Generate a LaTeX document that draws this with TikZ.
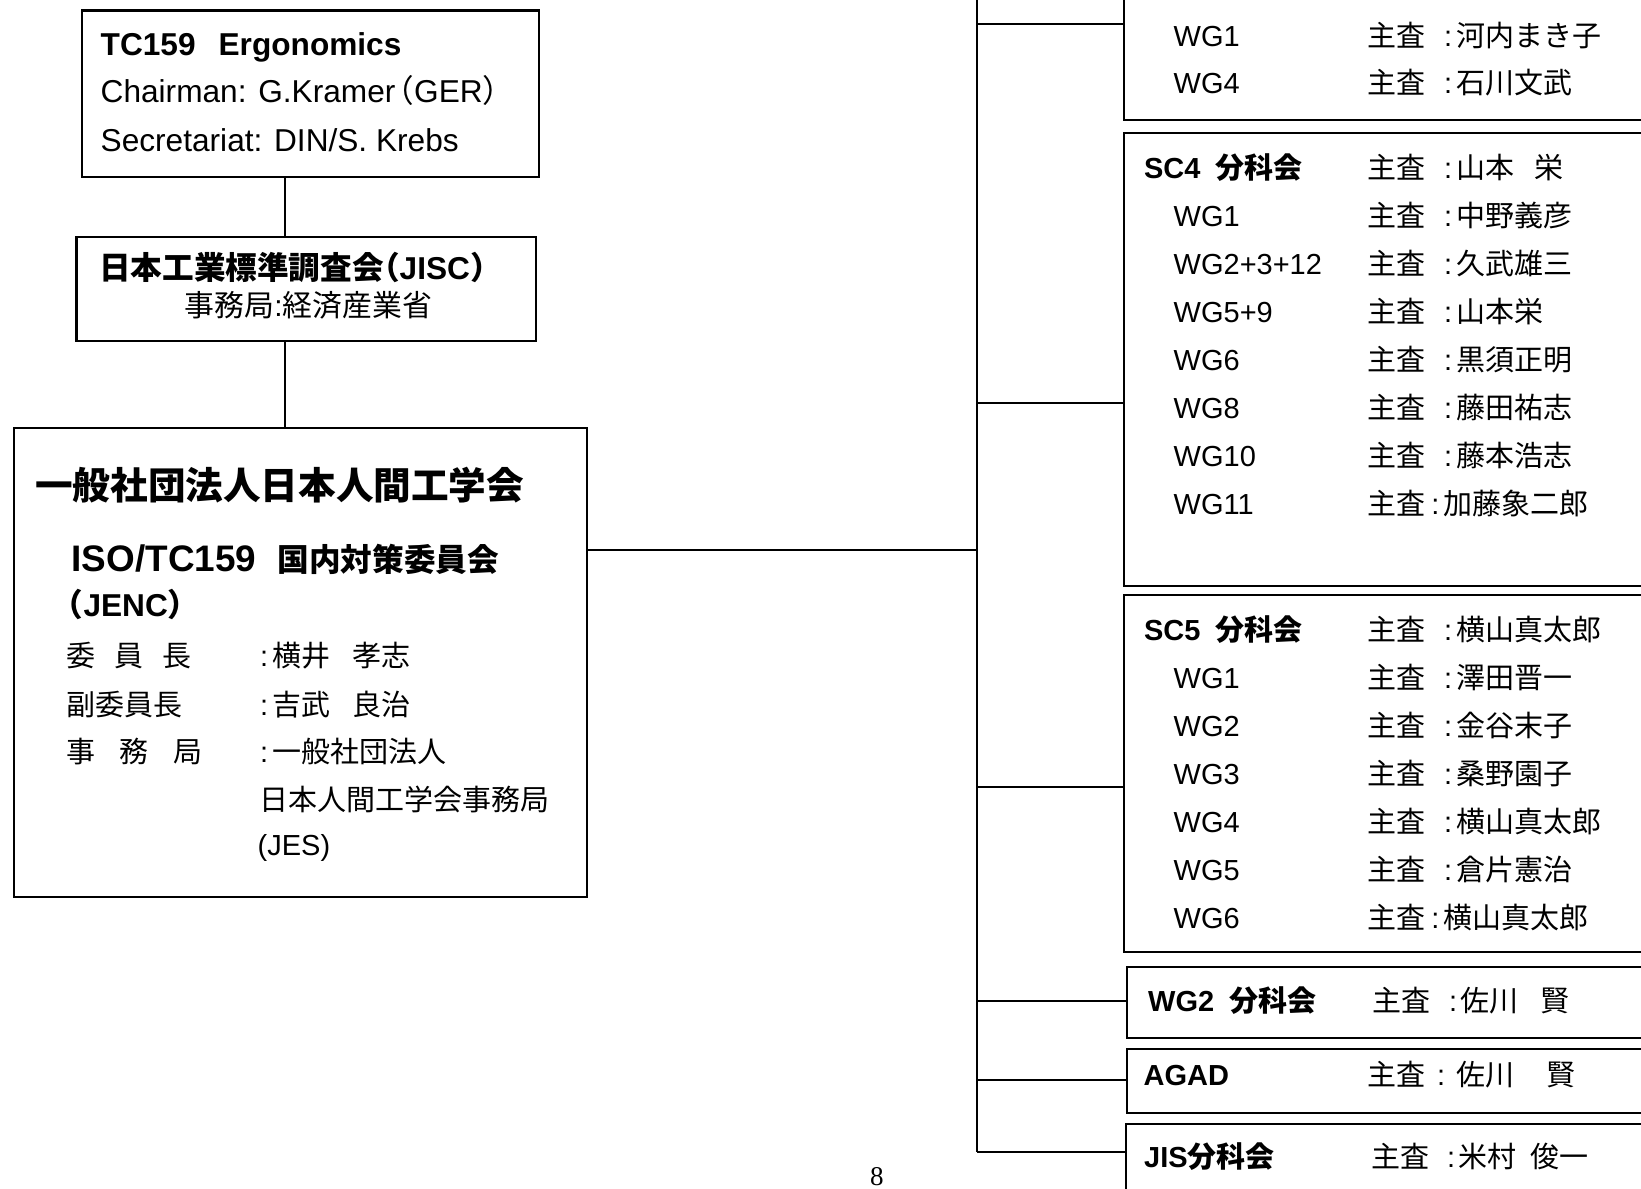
\documentclass[tikz,border=0pt]{standalone}
\usepackage{fontspec}
\setmainfont{Liberation Sans}
\newfontfamily\jpfont[RawFeature=+halt]{Noto Sans CJK JP}
\newfontfamily\pgfont{Liberation Serif}
\newcommand{\jstr}[1]{{\jpfont #1}}
\begin{document}
\begin{tikzpicture}[
    box/.style={draw, line width=0.6pt, anchor=north west, inner sep=0pt},
    link/.style={line width=0.6pt},
    txt/.style={anchor=base west, inner sep=0pt, font=\fontsize{8.25}{9.9}\selectfont},
    hd/.style={txt, font=\fontsize{8.25}{9.9}\selectfont\bfseries},
    lg/.style={txt, font=\fontsize{9}{10.8}\selectfont},
    lghd/.style={txt, font=\fontsize{9}{10.8}\selectfont\bfseries}]
    \useasboundingbox (0,0) rectangle (16.41,-11.89);
    \clip (0,0) rectangle (16.41,-11.89);
    \node[box, minimum width=4.574cm, minimum height=1.666cm] (tc) at (0.806,-0.094) {};
    \node[box, minimum width=4.596cm, minimum height=1.045cm] (jisc) at (0.754,-2.355) {};
    \node[box, minimum width=5.734cm, minimum height=4.69cm] (jes) at (0.126,-4.27) {};
    \node[box, minimum width=6cm, minimum height=2.693cm] (sc3) at (11.227,1.50) {};
    \node[box, minimum width=6cm, minimum height=4.527cm] (sc4) at (11.227,-1.323) {};
    \node[box, minimum width=6cm, minimum height=3.57cm] (sc5) at (11.227,-5.94) {};
    \node[box, minimum width=6cm, minimum height=0.707cm] (wg2) at (11.26,-9.66) {};
    \node[box, minimum width=6cm, minimum height=0.635cm] (agad) at (11.257,-10.48) {};
    \node[box, minimum width=6cm, minimum height=1.775cm] (jis) at (11.25,-11.225) {};
    \coordinate (spine) at (2.847,0);
    \draw[link] (spine |- tc.south) -- (spine |- jisc.north);
    \draw[link] (spine |- jisc.south) -- (spine |- jes.north);
    \coordinate (ttop) at (9.767,0.30);
    \coordinate (t0) at (9.767,-5.50);
    \coordinate (t1) at (9.767,-0.243);
    \coordinate (t2) at (9.767,-4.033);
    \coordinate (t3) at (9.767,-7.873);
    \coordinate (t4) at (9.767,-10.006);
    \coordinate (t5) at (9.767,-10.80);
    \coordinate (t6) at (9.767,-11.523);
    \draw[link] (t0 -| jes.east) -- (t0);
    \draw[link] (ttop) -- (t6);
    \foreach \t/\b in {t1/sc3,t2/sc4,t3/sc5,t4/wg2,t5/agad,t6/jis}
        \draw[link] (\t) -- (\t -| \b.west);
    \node[lghd] (tc1) at (1.00,-0.55) {TC159\hspace{0.23cm}Ergonomics};
    \node[lg] (tc2) at (1.00,-1.027) {Chairman: G.Kramer\hspace{0.03cm}\jstr{（}GER\jstr{）}};
    \node[lg] (tc3) at (1.00,-1.51) {Secretariat: DIN/S. Krebs};
    \node[lghd] (ji1) at (0.985,-2.793) {\jstr{日本工業標準調査会（}JISC\jstr{）}};
    \node[txt, font=\fontsize{8.5}{10.2}\selectfont] (ji2) at (1.84,-3.165) {\jstr{事務局}:\jstr{経済産業省}};
    \node[txt, font=\fontsize{10.7}{12.8}\selectfont\bfseries] (je0) at (0.345,-4.99) {\jstr{一般社団法人日本人間工学会}};
    \node[txt, font=\fontsize{10.5}{12.6}\selectfont\bfseries] (je1) at (0.71,-5.717) {ISO/TC159};
    \node[lghd] (je2) at (2.77,-5.717) {\jstr{国内対策委員会}};
    \node[lghd] (je3) at (0.67,-6.167) {\jstr{（}JENC\jstr{）}};
    \node[txt] (je4) at (0.655,-6.66) {\jstr{委\hspace{0.19cm}員\hspace{0.19cm}長}};
    \node[txt] (je5) at (2.593,-6.66) {:\hspace{0.04cm}\jstr{横井\hspace{0.224cm}孝志}};
    \node[txt] (je6) at (0.655,-7.15) {\jstr{副委員長}};
    \node[txt] (je7) at (2.593,-7.15) {:\hspace{0.04cm}\jstr{吉武\hspace{0.224cm}良治}};
    \node[txt] (je8) at (0.655,-7.62) {\jstr{事\hspace{0.245cm}務\hspace{0.245cm}局}};
    \node[txt] (je9) at (2.593,-7.62) {:\hspace{0.04cm}\jstr{一般社団法人}};
    \node[txt] (je10) at (2.585,-8.10) {\jstr{日本人間工学会事務局}};
    \node[txt] (je11) at (2.57,-8.55) {(JES)};
    \foreach \wg/\nm [count=\i] in {WG1/河内まき子, WG4/石川文武}{
        \node[txt] (s3w\i) at (11.73,0.015-0.475*\i) {\wg};
        \node[txt] (s3c\i) at (13.67,0.015-0.475*\i) {\jstr{主査}};
        \node[txt] (s3n\i) at (14.433,0.015-0.475*\i) {:\hspace{0.04cm}\jstr{\nm}};
    }
    \node[hd] (s4h) at (11.434,-1.78) {SC4\hspace{0.15cm}\jstr{分科会}};
    \node[txt] (s4c0) at (13.67,-1.78) {\jstr{主査}};
    \node[txt] (s4n0) at (14.433,-1.78) {:\hspace{0.04cm}\jstr{山本\hspace{0.2cm}栄}};
    \foreach \wg/\nm/\cx [count=\i] in {WG1/中野義彦/14.433, WG2+3+12/久武雄三/14.433,
        WG5+9/山本栄/14.433, WG6/黒須正明/14.433, WG8/藤田祐志/14.433,
        WG10/藤本浩志/14.433, WG11/加藤象二郎/14.307}{
        \node[txt] (s4w\i) at (11.73,-1.78-0.481*\i) {\wg};
        \node[txt] (s4c\i) at (13.67,-1.78-0.481*\i) {\jstr{主査}};
        \node[txt] (s4n\i) at (\cx,-1.78-0.481*\i) {:\hspace{0.04cm}\jstr{\nm}};
    }
    \node[hd] (s5h) at (11.434,-6.405) {SC5\hspace{0.15cm}\jstr{分科会}};
    \node[txt] (s5c0) at (13.67,-6.405) {\jstr{主査}};
    \node[txt] (s5n0) at (14.433,-6.405) {:\hspace{0.04cm}\jstr{横山真太郎}};
    \foreach \wg/\nm/\cx [count=\i] in {WG1/澤田晋一/14.433, WG2/金谷末子/14.433,
        WG3/桑野園子/14.433, WG4/横山真太郎/14.433, WG5/倉片憲治/14.433,
        WG6/横山真太郎/14.307}{
        \node[txt] (s5w\i) at (11.73,-6.405-0.48*\i) {\wg};
        \node[txt] (s5c\i) at (13.67,-6.405-0.48*\i) {\jstr{主査}};
        \node[txt] (s5n\i) at (\cx,-6.405-0.48*\i) {:\hspace{0.04cm}\jstr{\nm}};
    }
    \node[hd] (w2h) at (11.475,-10.11) {WG2\hspace{0.15cm}\jstr{分科会}};
    \node[txt] (w2c) at (13.72,-10.11) {\jstr{主査}};
    \node[txt] (w2n) at (14.483,-10.11) {:\hspace{0.03cm}\jstr{佐川\hspace{0.22cm}賢}};
    \node[hd] (agh) at (11.43,-10.85) {AGAD};
    \node[txt] (agc) at (13.67,-10.85) {\jstr{主査}};
    \node[txt] (agn) at (14.363,-10.85) {:\hspace{0.117cm}\jstr{佐川\hspace{0.32cm}賢}};
    \node[hd] (jih) at (11.435,-11.67) {JIS\jstr{分科会}};
    \node[txt] (jic) at (13.71,-11.67) {\jstr{主査}};
    \node[txt] (jin) at (14.463,-11.67) {:\hspace{0.03cm}\jstr{米村\hspace{0.14cm}俊一}};
    \node[anchor=base, inner sep=0pt, font=\pgfont\fontsize{7.7}{9}\selectfont] (pg) at (8.77,-11.85) {8};
\end{tikzpicture}
\end{document}
